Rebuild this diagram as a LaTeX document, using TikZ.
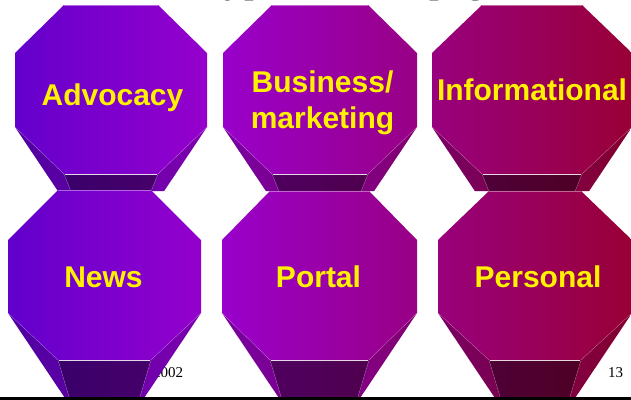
\documentclass[tikz,border=0pt]{standalone}
\usepackage{fontspec}
\setmainfont{Liberation Serif}
\newfontfamily\labfont{Liberation Sans}
\definecolor{gA}{RGB}{96,0,204}
\definecolor{gB}{RGB}{153,0,204}
\definecolor{gC}{RGB}{153,0,51}
\tikzset{
  lab/.style={text=yellow, font=\labfont\bfseries\fontsize{30}{36}\selectfont, inner sep=0pt, anchor=base},
  foot/.style={font=\fontsize{15}{18}\selectfont, inner sep=0pt, anchor=base west},
  ttl/.style={font=\fontsize{39.3}{44}\selectfont, inner sep=0pt, anchor=base west},
  edgehl/.style={white, opacity=.3, line width=.4},
}
\newcommand\gradbg{%
  \shade[left color=gA,right color=gB] (-1,-20) rectangle (220.5,420);
  \shade[left color=gB,right color=gC] (220,-20) rectangle (640,420);}
% #1 L, #2 R, #3 T, #4 diag width, #5 top diag h, #6 vertical, #7 bottom diag h, #8 depth end, #9 inner slope
\newcommand\octo[9]{%
  \pgfmathsetmacro\qL{#1}\pgfmathsetmacro\qR{#2}%
  \pgfmathsetmacro\qA{#1+#4}\pgfmathsetmacro\qZ{#2-#4}%
  \pgfmathsetmacro\qT{#3}\pgfmathsetmacro\qU{#3+#5}%
  \pgfmathsetmacro\qV{#3+#5+#6}\pgfmathsetmacro\qB{#3+#5+#6+#7}%
  \pgfmathsetmacro\qD{#8}%
  \pgfmathsetmacro\qi{#9*(#8-\qB)}\pgfmathsetmacro\qo{0.67*(#8-\qV)}%
  % left wedge
  \begin{scope}
    \clip (\qL,\qV) -- (\qA,\qB) -- ({\qA+\qi},\qD) -- ({\qL+\qo},\qD) -- cycle;
    \gradbg \fill[black,opacity=.2] (-5,-25) rectangle (640,420);
  \end{scope}
  % right wedge
  \begin{scope}
    \clip (\qR,\qV) -- (\qZ,\qB) -- ({\qZ-\qi},\qD) -- ({\qR-\qo},\qD) -- cycle;
    \gradbg \fill[black,opacity=.15] (-5,-25) rectangle (640,420);
  \end{scope}
  % bottom band
  \begin{scope}
    \clip (\qA,\qB) -- (\qZ,\qB) -- ({\qZ-\qi},\qD) -- ({\qA+\qi},\qD) -- cycle;
    \gradbg \fill[black,opacity=.48] (-5,-25) rectangle (640,420);
  \end{scope}
  \draw[edgehl] (\qA,\qB) -- ({\qA+\qi},\qD);
  \draw[edgehl] (\qZ,\qB) -- ({\qZ-\qi},\qD);
  % face
  \begin{scope}
    \clip (\qA,\qT) -- (\qZ,\qT) -- (\qR,\qU) -- (\qR,\qV) -- (\qZ,\qB) -- (\qA,\qB) -- (\qL,\qV) -- (\qL,\qU) -- cycle;
    \gradbg
  \end{scope}
  \draw[edgehl] (\qL,\qV) -- (\qA,\qB);
  \draw[edgehl] (\qR,\qV) -- (\qZ,\qB);
  \draw[white, opacity=.4, line width=.5] (\qA,\qT+.3) -- (\qZ,\qT+.3);
  \draw[white, opacity=.85, line width=1] (\qA+1,\qB+.6) -- (\qZ-1,\qB+.6);
}
\begin{document}
\begin{tikzpicture}[x=1pt,y=-1pt]
  \useasboundingbox (0,0) rectangle (631,399);
  \clip (0,0) rectangle (631,399);
  \fill[white] (0,0) rectangle (631,399);
  % title (only its descenders are inside the frame)
  \node[ttl] (title) at (203,-8) {Types of Web pages};
  % footer
  \node[foot] (year) at (153,377) {2002};
  \node[foot] (page) at (608,377) {13};
  % top row
  \octo{15}{207}{5}{49}{48}{74}{47}{191}{0.4}
  \octo{223}{417}{5}{49}{48}{74}{47}{191}{0.4}
  \octo{432}{632}{5}{50}{48}{74}{47}{191}{0.4}
  % bottom row
  \octo{8}{201}{190}{50}{50}{73}{47}{399}{0.3}
  \octo{222}{417}{191}{48}{49}{73}{47}{399}{0.3}
  \octo{438}{632}{191}{51}{49}{73}{47}{399}{0.3}
  % labels
  \node[lab] (advocacy) at (112.5,105) {Advocacy};
  \node[lab] (business) at (322.5,92) {Business/};
  \node[lab] (marketing) at (322.5,128) {marketing};
  \node[lab] (informational) at (532,100) {Informational};
  \node[lab] (news) at (103.5,287) {News};
  \node[lab] (portal) at (318.5,287) {Portal};
  \node[lab] (personal) at (538,287) {Personal};
  % footer rule
  \fill[black] (0,397) rectangle (631,399.5);
\end{tikzpicture}
\end{document}
